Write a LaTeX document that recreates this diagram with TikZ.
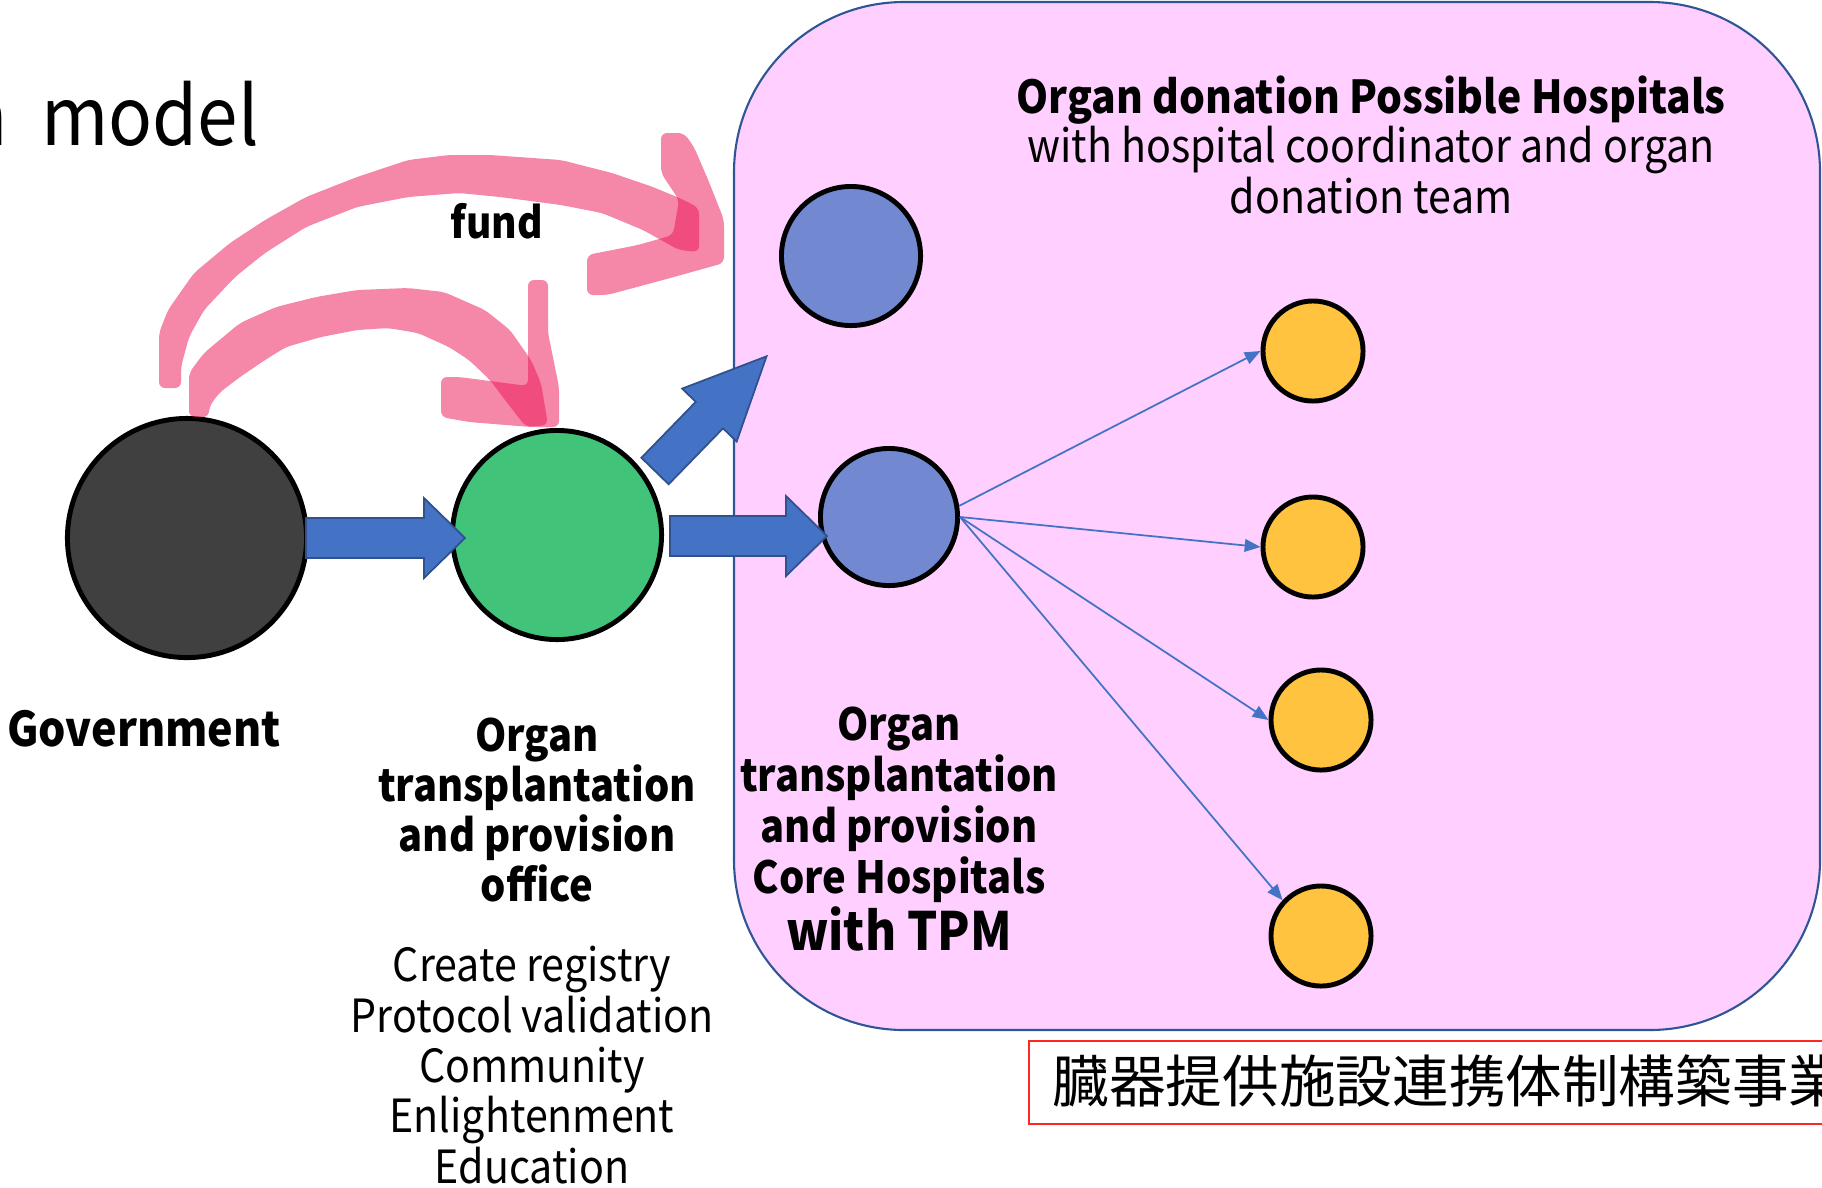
\documentclass[tikz,border=0pt]{standalone}
\usepackage{fontspec}
\setmainfont{Noto Sans CJK JP}[FakeStretch=0.9]
\newfontfamily\jpfont{Noto Sans CJK JP}
\usetikzlibrary{arrows.meta}

\definecolor{govgray}{RGB}{64,64,64}
\definecolor{officegreen}{RGB}{65,196,122}
\definecolor{corebl}{RGB}{114,137,209}
\definecolor{hospyel}{RGB}{255,195,64}
\definecolor{areapink}{RGB}{255,208,255}
\definecolor{areaedge}{RGB}{47,85,151}
\definecolor{flowblue}{RGB}{68,114,196}
\definecolor{flowedge}{RGB}{47,82,143}
\definecolor{fundpink}{RGB}{236,24,88}
\definecolor{boxred}{RGB}{255,38,38}

\tikzset{
  disc/.style={circle, draw=black, line width=1.4pt, inner sep=0pt},
  blockarrow/.style={fill=flowblue, draw=flowedge, line width=0.5pt, line join=miter},
  fundink/.style={fill=fundpink, fill opacity=0.52, rounded corners=0.06cm},
  spoke/.style={draw=flowblue, line width=0.5pt, -{Triangle[length=4.5pt,width=3.6pt]}},
  boldlbl/.style={align=center, inner sep=0pt, font=\bfseries\fontsize{12.6}{14.3}\selectfont},
  plainlbl/.style={align=center, inner sep=0pt, font=\fontsize{13}{14.3}\selectfont},
}

% block arrow: tail centre (#1,#2), direction #3, length #4,
% shaft half-width #5, head half-width #6, head length #7
\newcommand{\flowarrow}[7]{%
  \begin{scope}[shift={(#1,#2)}, rotate=#3]
    \path[blockarrow] (0,-#5) -- ({#4-#7},-#5) -- ({#4-#7},-#6) -- (#4,0)
      -- ({#4-#7},#6) -- ({#4-#7},#5) -- (0,#5) -- cycle;
  \end{scope}}

\begin{document}
\begin{tikzpicture}[x=0.01cm, y=-0.01cm]
\useasboundingbox (0,0) rectangle (1822,1187);
\clip (0,0) rectangle (1822,1187);

% hospital area
\draw[fill=areapink, draw=areaedge, line width=0.6pt, rounded corners=1.7cm]
  (734,2) rectangle (1820,1030);

% title fragment
\node[anchor=base west, inner sep=0pt, font=\fontsize{23}{26}\selectfont] (title) at (-37,145) {n\hspace{0.33cm}model};

% actors
\node[disc, fill=govgray, minimum size=2.39cm] (gov) at (187,538) {};
\node[disc, fill=officegreen, minimum size=2.09cm] (office) at (557,535) {};
\node[disc, fill=corebl, minimum size=1.39cm] (possible) at (851,256) {};
\node[disc, fill=corebl, minimum size=1.37cm] (core) at (889,517) {};
\node[disc, fill=hospyel, minimum size=1.0cm] (h1) at (1313,351) {};
\node[disc, fill=hospyel, minimum size=1.0cm] (h2) at (1313,547) {};
\node[disc, fill=hospyel, minimum size=1.0cm] (h3) at (1321,720) {};
\node[disc, fill=hospyel, minimum size=1.0cm] (h4) at (1321,936) {};

% core hospital to possible hospitals
\draw[spoke] (core.9) -- (h1.west);
\draw[spoke] (core.east) -- (h2.west);
\draw[spoke] (core.east) -- (h3.west);
\draw[spoke] (core.east) -- (h4.137);

% block arrows
\flowarrow{306}{538}{0}{159}{20}{40}{41}
\flowarrow{670}{536}{0}{157}{20}{40}{41}
\flowarrow{655}{471}{45.8}{160}{19}{38}{82}

% fund flows (hand-drawn ink)
\path[fundink] (159,388) -- (159,333) -- (168,310) -- (194,273) -- (230,243) -- (265,220)
  -- (306,197) -- (357,177) -- (408,160) -- (449,155) -- (490,155) -- (561,160) -- (612,173)
  -- (653,187) -- (684,200) -- (699,208) -- (699,252) -- (679,250) -- (643,230) -- (602,213)
  -- (561,205) -- (500,197) -- (459,193) -- (408,197) -- (357,207) -- (306,227) -- (265,253)
  -- (235,277) -- (204,310) -- (189,337) -- (181,367) -- (181,388) -- cycle;
\path[fundink] (661,133) -- (684,133) -- (694,147) -- (709,182) -- (724,220) -- (724,263)
  -- (663,280) -- (607,295) -- (587,295) -- (587,255) -- (638,245) -- (673,235) -- (679,200)
  -- (661,173) -- cycle;
\path[fundink] (189,417) -- (189,373) -- (204,353) -- (240,323) -- (276,307) -- (316,297)
  -- (357,290) -- (408,288) -- (444,292) -- (485,310) -- (510,330) -- (531,360) -- (541,383)
  -- (548,425) -- (526,427) -- (505,400) -- (490,380) -- (469,360) -- (449,347) -- (418,333)
  -- (388,328) -- (357,330) -- (321,337) -- (286,347) -- (265,360) -- (240,377) -- (219,393)
  -- (209,407) -- (209,417) -- cycle;
\path[fundink] (528,280) -- (548,280) -- (548,333) -- (559,387) -- (559,427) -- (531,427)
  -- (469,422) -- (441,417) -- (441,377) -- (459,377) -- (528,386) -- (528,330) -- cycle;
\node[inner sep=0pt, font=\bfseries\fontsize{12.3}{14}\selectfont] (fundlbl) at (497,221) {fund};

% labels
\node[boldlbl, font=\bfseries\fontsize{12.9}{14.3}\selectfont] (areatitle) at (1371,100) {Organ donation Possible Hospitals};
\node[plainlbl] (areasub) at (1371,170) {with hospital coordinator and organ\\donation team};
\node[boldlbl, font=\bfseries\fontsize{13.6}{15}\selectfont] (govlbl) at (144,729) {Government};
\node[boldlbl] (officelbl) at (537,810) {Organ\\transplantation\\and provision\\office};
\node[plainlbl] (officetasks) at (532,1065) {Create registry\\Protocol validation\\Community\\Enlightenment\\Education};
\node[boldlbl, font=\bfseries\fontsize{12.6}{14.5}\selectfont] (corelbl) at (899,829) {Organ\\transplantation\\and provision\\Core Hospitals\\{\fontsize{15}{17}\selectfont with TPM}};

% programme name
\draw[boxred, line width=0.8pt] (1029,1041) rectangle (1840,1124);
\node[anchor=west, inner sep=0pt, font=\jpfont\fontsize{16.1}{19}\selectfont] (programme) at (1052,1081) {臓器提供施設連携体制構築事業};

\end{tikzpicture}
\end{document}
